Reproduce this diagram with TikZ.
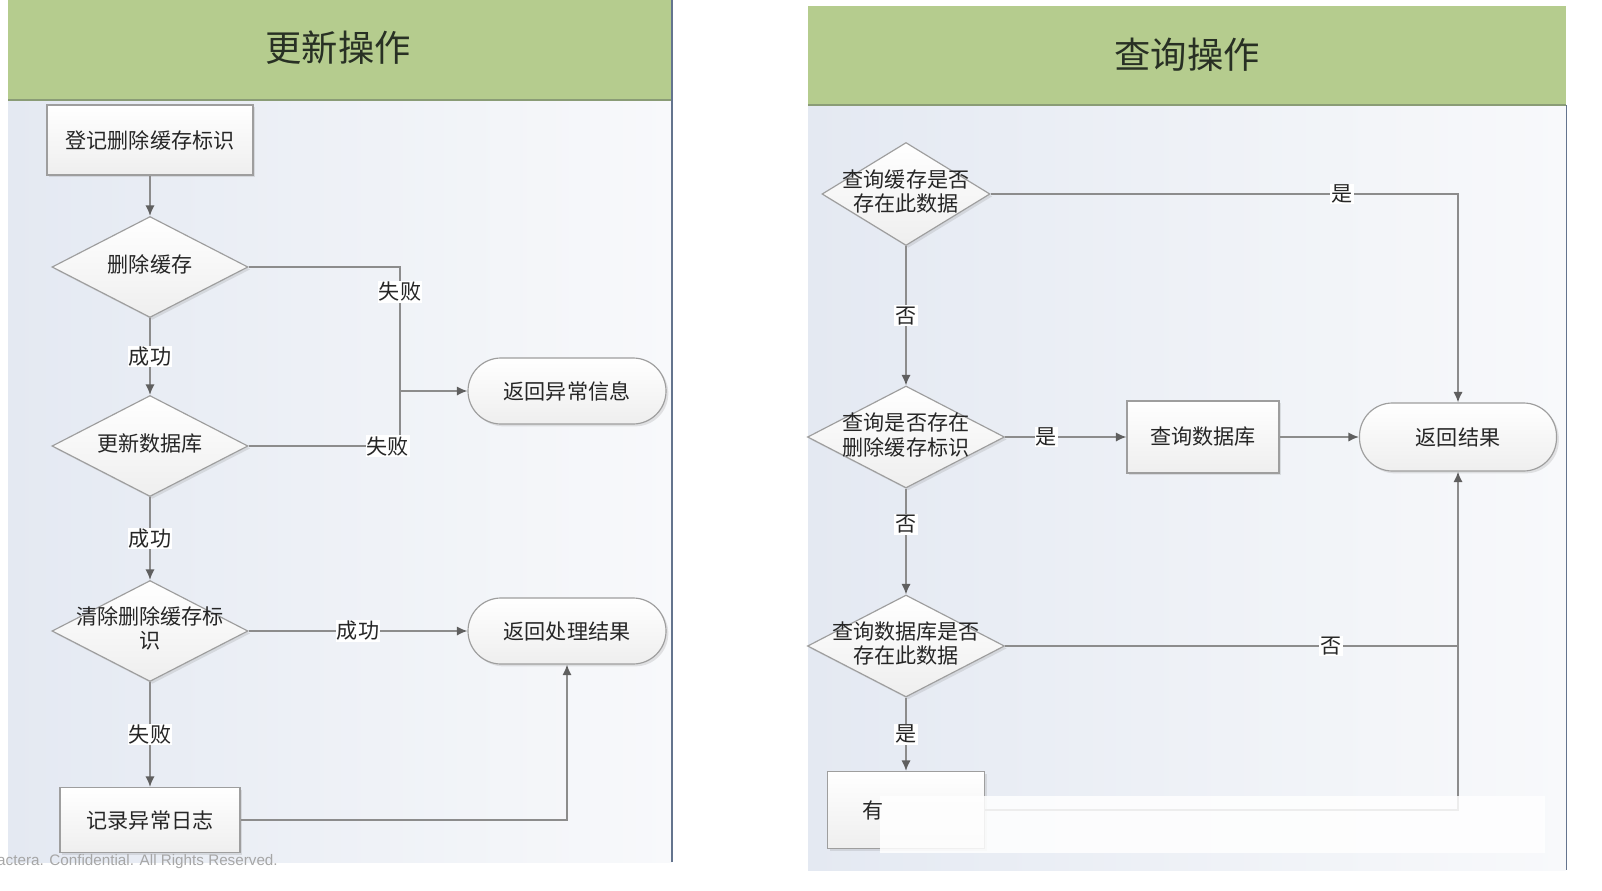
\documentclass[tikz,border=0pt]{standalone}
\usepackage{fontspec}
\setmainfont{Noto Sans CJK SC}
\newfontfamily\footfont{Liberation Sans}
\usetikzlibrary{arrows,arrows.meta,positioning,shapes.geometric,shadows}
\definecolor{headgreen}{RGB}{181,204,142}
\definecolor{headline}{RGB}{138,156,118}
\definecolor{panelleft}{RGB}{228,233,242}
\definecolor{panelright}{RGB}{248,249,251}
\definecolor{linegray}{RGB}{140,140,140}
\definecolor{tipgray}{RGB}{95,95,95}
\definecolor{boxgray}{RGB}{158,158,158}
\definecolor{framegray}{RGB}{100,116,142}
\definecolor{titlecol}{RGB}{40,48,36}
\tikzset{font=\fontsize{18}{19}\selectfont}
\tikzset{every node/.append style={text=black!85}}
% text of a diamond, kept out of its size
\newcommand{\dtext}[1]{\makebox[0pt]{\smash{\raisebox{-4.5pt}{\begin{tabular}{@{}c@{}}#1\end{tabular}}}}}

\begin{document}
\begin{tikzpicture}[x=0.03cm,y=-0.03cm,
  procbox/.style={rectangle, draw=boxgray, line width=1pt, top color=white,
    bottom color=gray!13, drop shadow={opacity=.2,shadow xshift=2pt,shadow yshift=-2pt}},
  decision/.style={diamond, draw=boxgray, line width=1pt, top color=white,
    bottom color=gray!13, inner sep=0pt, aspect=2,
    drop shadow={opacity=.2,shadow xshift=2pt,shadow yshift=-2pt}},
  terminal/.style={procbox, rounded corners=0.99cm},
  flow/.style={draw=linegray, line width=1.5pt, -{Latex[length=9pt,width=8pt,color=tipgray]}},
  link/.style={draw=linegray, line width=1.5pt},
  lbl/.style={fill=white, inner sep=1pt},
  title/.style={font=\fontsize{31}{31}\selectfont, text=titlecol}]
  \useasboundingbox (0,0) rectangle (1602,890);
  % panels
  \shade[left color=panelleft, right color=panelright] (8,100) rectangle (672,862);
  \fill[headgreen] (8,0) rectangle (672,100);
  \draw[headline, line width=2pt] (8,100) -- (672,100);
  \draw[framegray, line width=1pt] (672,0) -- (672,862);
  \shade[left color=panelleft, right color=panelright] (808,105) rectangle (1566,870);
  \fill[headgreen] (808,6) rectangle (1566,105);
  \draw[headline, line width=2pt] (808,105) -- (1566,105);
  \draw[framegray, line width=.6pt] (1566,105) -- (1566,870);
  \node[title] (updtitle) at (338,48) {更新操作};
  \node[title] (qrytitle) at (1187,55) {查询操作};

  % update flow
  \node[procbox, minimum width=6.18cm, minimum height=2.1cm] (reg) at (150,140) {登记删除缓存标识};
  \node[decision, minimum width=5.88cm, minimum height=3.03cm] (del) at (150,267) {\dtext{删除缓存}};
  \node[decision, minimum width=5.88cm, minimum height=3.03cm] (upd) at (150,446) {\dtext{更新数据库}};
  \node[decision, minimum width=5.88cm, minimum height=3.03cm] (clr) at (150,631) {\dtext{清除删除缓存标\\识}};
  \node[procbox, minimum width=5.4cm, minimum height=1.95cm] (log) at (150,820) {记录异常日志};
  \node[terminal, minimum width=5.94cm, minimum height=1.98cm] (errret) at (567,391) {返回异常信息};
  \node[terminal, minimum width=5.94cm, minimum height=1.98cm] (done) at (567,631) {返回处理结果};
  \coordinate (errjoin) at (400,391);

  \draw[flow] (reg) -- (del);
  \draw[flow] (del) -- node[lbl]{成功} (upd);
  \draw[flow] (upd) -- node[lbl]{成功} (clr);
  \draw[flow] (clr) -- node[lbl]{失败} (log);
  \draw[link] (del.east) -| node[lbl, pos=.6]{失败} (errjoin);
  \draw[link] (upd.east) -| node[lbl, pos=.46]{失败} (errjoin);
  \draw[flow] (errjoin) -- (errret.west);
  \draw[flow] (clr.east) -- node[lbl]{成功} (done.west);
  \draw[flow] (log.east) -| (done.south);

  % query flow
  \node[decision, minimum width=5.04cm, minimum height=3.09cm] (q1) at (906,194) {\dtext{查询缓存是否\\存在此数据}};
  \node[decision, minimum width=5.91cm, minimum height=3.06cm] (q2) at (906,437) {\dtext{查询是否存在\\删除缓存标识}};
  \node[decision, minimum width=5.91cm, minimum height=3.06cm] (q3) at (906,646) {\dtext{查询数据库是否\\存在此数据}};
  \node[procbox, minimum width=4.56cm, minimum height=2.16cm] (qdb) at (1203,437) {查询数据库};
  \node[terminal, minimum width=5.91cm, minimum height=2.04cm] (ret) at (1458,437) {返回结果};
  \node[procbox, minimum width=4.71cm, minimum height=2.31cm] (store) at (906,810) {};
  \coordinate (retjoin) at (1458,646);

  \draw[flow] (q1.east) -| node[lbl, pos=.376]{是} (ret.north);
  \draw[flow] (q1) -- node[lbl]{否} (q2);
  \draw[flow] (q2) -- node[lbl, pos=.34]{是} (qdb);
  \draw[flow] (qdb) -- (ret);
  \draw[flow] (q2) -- node[lbl, pos=.34]{否} (q3);
  \draw[flow] (q3) -- node[lbl]{是} (store);
  \draw[link] (q3.east) -- node[lbl, pos=.72]{否} (retjoin);
  \draw[flow] (store.east) -| (ret.south);

  % faded band over the bottom
  \fill[white, opacity=.85] (880,796) rectangle (1545,853);
  \node (storetxt) at (873,810) {有};
  \node[anchor=west, inner sep=0pt, text=gray!70, font=\footfont\fontsize{13}{13}\selectfont] (foot) at (-3,862) {actera. Confidential. All Rights Reserved.};
\end{tikzpicture}
\end{document}
